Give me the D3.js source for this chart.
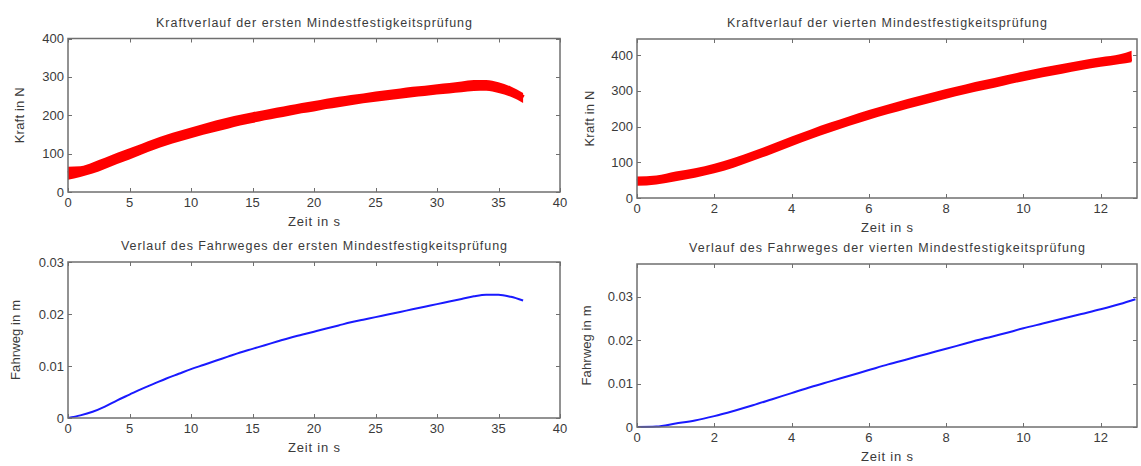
<!DOCTYPE html>
<html>
<head>
<meta charset="utf-8">
<script src="https://cdn.jsdelivr.net/npm/d3@7"></script>
<style>
  html, body { margin: 0; padding: 0; background: #fff; }
  svg text { font-family: "Liberation Sans", Arial, sans-serif; fill: #3a3a3a; }
</style>
</head>
<body>
<svg id="chart" width="1141" height="466"></svg>
<script>
// ---- Test 1: force over time (N), band = measured scatter around the trend
const force1Time  = [0,1,2,3,4,5,6,7,8,9,10,11,12,13,14,15,16,17,18,19,20,21,22,23,24,25,26,27,28,29,30,31,32,33,34,35,36,37];
const force1Mid   = [47,52,62,74,87,98,111,123,134,144,153,162,170,178,186,193,199,205,211,217,222,228,233,238,242,247,251,255,259,262,265,268,271,274,275,271,262,245];
const force1Lower = [32,39,48,60,73,85,98,110,121,131,140,149,157,165,173,180,187,193,199,205,210,216,221,226,231,235,239,243,247,250,254,257,260,263,264,258,248,232];
const force1Upper = [66,67,77,89,102,114,126,138,149,159,168,177,186,194,201,208,214,220,226,232,237,243,248,253,257,262,266,270,274,277,281,284,288,292,292,286,275,258];

// ---- Test 4: force over time (N)
const force4Time  = [0,0.5,1,1.5,2,2.5,3,3.5,4,4.5,5,5.5,6,6.5,7,7.5,8,8.5,9,9.5,10,10.5,11,11.5,12,12.5,12.8];
const force4Mid   = [45,50,59,69,81,97,116,136,157,177,196,214,231,247,262,276,290,303,315,327,339,350,360,370,379,387,392];
const force4Lower = [34,38,47,57,69,85,104,124,145,165,184,202,219,235,250,264,278,291,303,315,327,338,348,358,367,375,380];
const force4Upper = [60,63,74,83,96,112,131,151,172,192,211,229,246,262,277,291,305,318,330,342,354,365,375,385,394,402,412];

// ---- Test 1: travel over time (m)
const travel1Time = [0,1,2,3,4,5,6,7,8,9,10,11,12,13,14,15,16,17,18,19,20,21,22,23,24,25,26,27,28,29,30,31,32,33,34,35,36,37];
const travel1     = [0,0.0005,0.0012,0.0022,0.0034,0.0045,0.0056,0.0066,0.0076,0.0085,0.0094,0.0102,0.0110,0.0118,0.0126,0.0133,0.0140,0.0147,0.0154,0.0160,0.0166,0.0172,0.0178,0.0184,0.0189,0.0194,0.0199,0.0204,0.0209,0.0214,0.0219,0.0224,0.0229,0.0234,0.0237,0.0237,0.0233,0.0226];

// ---- Test 4: travel over time (m)
const travel4Time = [0,0.5,1,1.5,2,2.5,3,3.5,4,4.5,5,5.5,6,6.5,7,7.5,8,8.5,9,9.5,10,10.5,11,11.5,12,12.5,12.9];
const travel4     = [0,0.0001,0.0008,0.0015,0.0025,0.0037,0.0050,0.0064,0.0078,0.0092,0.0105,0.0118,0.0131,0.0144,0.0156,0.0168,0.0180,0.0192,0.0204,0.0215,0.0227,0.0238,0.0249,0.0260,0.0271,0.0283,0.0294];

// ---- Axis tick values
const ticksX1  = [0,5,10,15,20,25,30,35,40];
const ticksX4  = [0,2,4,6,8,10,12];
const ticksF1  = [0,100,200,300,400];
const ticksF4  = [0,100,200,300,400];
const ticksT1  = [0,0.01,0.02,0.03];
const ticksT4  = [0,0.01,0.02,0.03];

const svg = d3.select("#chart");

function panel(opt) {
  const {x0, x1, y0, y1, xDom, yDom, xTicks, yTicks, title, xLabel, yLabel, yFmt} = opt;
  const x = d3.scaleLinear().domain(xDom).range([x0, x1]);
  const y = d3.scaleLinear().domain(yDom).range([y1, y0]);
  const g = svg.append("g");
  const tickLen = 4;
  const axisColor = "#6f6f6f";

  // data marks first so the frame sits on top
  const marks = g.append("g");
  opt.draw(marks, x, y);

  // inward ticks on all four sides
  const tk = g.append("g").attr("stroke", axisColor).attr("stroke-width", 1);
  xTicks.forEach(v => {
    const px = Math.round(x(v)) + 0.5;
    tk.append("line").attr("x1", px).attr("x2", px).attr("y1", y1).attr("y2", y1 - tickLen);
    tk.append("line").attr("x1", px).attr("x2", px).attr("y1", y0).attr("y2", y0 + tickLen);
  });
  yTicks.forEach(v => {
    const py = Math.round(y(v)) + 0.5;
    tk.append("line").attr("x1", x0).attr("x2", x0 + tickLen).attr("y1", py).attr("y2", py);
    tk.append("line").attr("x1", x1).attr("x2", x1 - tickLen).attr("y1", py).attr("y2", py);
  });

  g.append("rect")
    .attr("x", x0).attr("y", y0).attr("width", x1 - x0).attr("height", y1 - y0)
    .attr("fill", "none").attr("stroke", axisColor).attr("stroke-width", 1.5);

  // tick labels
  g.append("g").selectAll("text").data(xTicks).join("text")
    .attr("x", d => x(d)).attr("y", y1 + 15)
    .attr("text-anchor", "middle").attr("font-size", 13)
    .text(d => d);
  g.append("g").selectAll("text").data(yTicks).join("text")
    .attr("x", x0 - 4).attr("y", d => y(d) + 4.5)
    .attr("text-anchor", "end").attr("font-size", 13)
    .text(yFmt || (d => d));

  g.append("text").attr("x", (x0 + x1) / 2).attr("y", y0 - 12)
    .attr("text-anchor", "middle").attr("font-size", 12.5)
    .attr("textLength", opt.titleWidth).attr("lengthAdjust", "spacing")
    .text(title);
  g.append("text").attr("x", (x0 + x1) / 2).attr("y", y1 + 34)
    .attr("text-anchor", "middle").attr("font-size", 13)
    .attr("textLength", 52).attr("lengthAdjust", "spacing")
    .text(xLabel);
  g.append("text")
    .attr("transform", `translate(${opt.yLabelX},${(y0 + y1) / 2}) rotate(-90)`)
    .attr("text-anchor", "middle").attr("font-size", 13)
    .attr("textLength", opt.yLabelWidth).attr("lengthAdjust", "spacing")
    .text(yLabel);
}

function forceBand(time, lower, upper, mid) {
  return (g, x, y) => {
    const area = d3.area().x((d, i) => x(time[i])).y0((d, i) => y(lower[i])).y1((d, i) => y(upper[i]))
      .curve(d3.curveMonotoneX);
    g.append("path").datum(time).attr("d", area).attr("fill", "#ff0000");
    const line = d3.line().x((d, i) => x(time[i])).y(d => y(d)).curve(d3.curveMonotoneX);
    g.append("path").datum(mid).attr("d", line).attr("fill", "none")
      .attr("stroke", "#ff0000").attr("stroke-width", 6);
  };
}

function travelLine(time, vals) {
  return (g, x, y) => {
    const line = d3.line().x((d, i) => x(time[i])).y(d => y(d)).curve(d3.curveMonotoneX);
    g.append("path").datum(vals).attr("d", line).attr("fill", "none")
      .attr("stroke", "#1a1aff").attr("stroke-width", 2);
  };
}

const fmtM = d => d === 0 ? "0" : d3.format(".2f")(d);

panel({
  x0: 68, x1: 560, y0: 38.5, y1: 192,
  xDom: [0, 40], yDom: [0, 400], xTicks: ticksX1, yTicks: ticksF1,
  title: "Kraftverlauf der ersten Mindestfestigkeitsprüfung", titleWidth: 316,
  xLabel: "Zeit in s", yLabel: "Kraft in N", yLabelX: 24, yLabelWidth: 56,
  draw: forceBand(force1Time, force1Lower, force1Upper, force1Mid)
});

panel({
  x0: 637, x1: 1137, y0: 39, y1: 198,
  xDom: [0, 12.94], yDom: [0, 445], xTicks: ticksX4, yTicks: ticksF4,
  title: "Kraftverlauf der vierten Mindestfestigkeitsprüfung", titleWidth: 320,
  xLabel: "Zeit in s", yLabel: "Kraft in N", yLabelX: 594, yLabelWidth: 56,
  draw: forceBand(force4Time, force4Lower, force4Upper, force4Mid)
});

panel({
  x0: 68, x1: 560, y0: 262, y1: 418,
  xDom: [0, 40], yDom: [0, 0.03], xTicks: ticksX1, yTicks: ticksT1, yFmt: fmtM,
  title: "Verlauf des Fahrweges der ersten Mindestfestigkeitsprüfung", titleWidth: 386,
  xLabel: "Zeit in s", yLabel: "Fahrweg in m", yLabelX: 20, yLabelWidth: 80,
  draw: travelLine(travel1Time, travel1)
});

panel({
  x0: 637, x1: 1137, y0: 264, y1: 427,
  xDom: [0, 12.94], yDom: [0, 0.0375], xTicks: ticksX4, yTicks: ticksT4, yFmt: fmtM,
  title: "Verlauf des Fahrweges der vierten Mindestfestigkeitsprüfung", titleWidth: 396,
  xLabel: "Zeit in s", yLabel: "Fahrweg in m", yLabelX: 591, yLabelWidth: 80,
  draw: travelLine(travel4Time, travel4)
});
</script>
</body>
</html>
